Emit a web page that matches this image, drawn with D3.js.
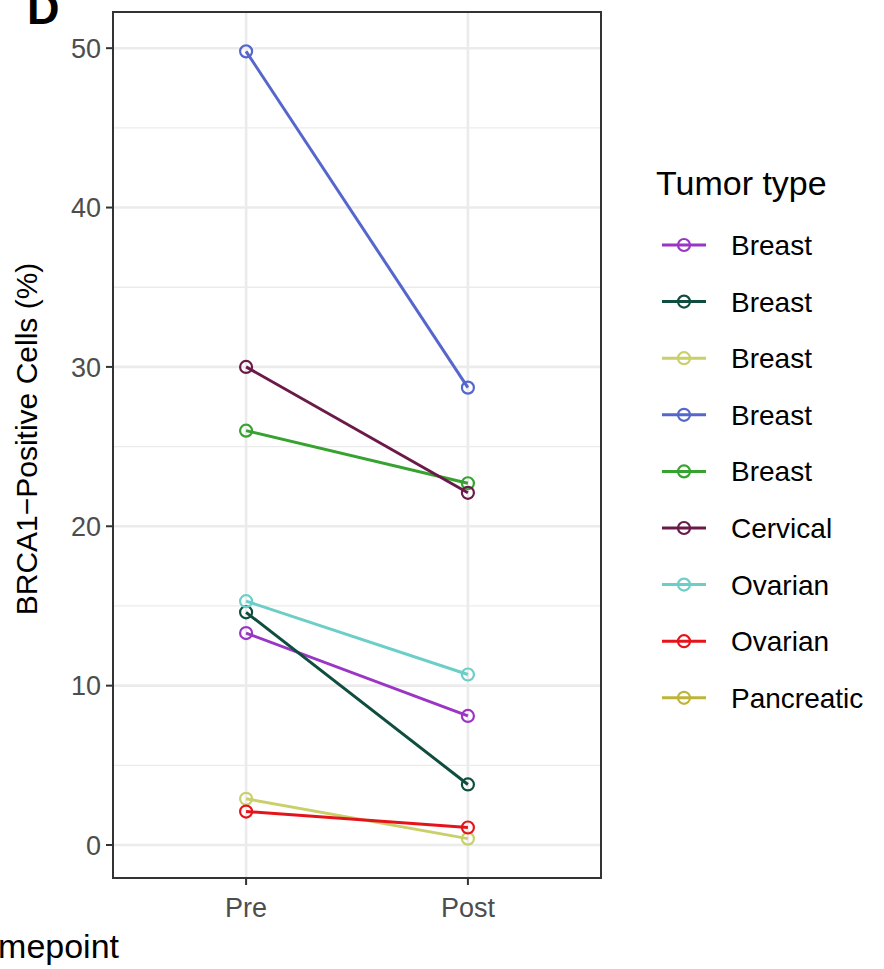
<!DOCTYPE html>
<html>
<head>
<meta charset="utf-8">
<script src="https://cdn.jsdelivr.net/npm/d3@7"></script>
<style>
  body { margin: 0; background: #fff; }
  svg { display: block; font-family: "Liberation Sans", Arial, Helvetica, sans-serif; }
</style>
</head>
<body>
<svg id="chart" width="884" height="969"></svg>
<script>
// ---- data ----
const timepoints = ["Pre", "Post"];
const tumorTypes = ["Breast", "Breast", "Breast", "Breast", "Breast", "Cervical", "Ovarian", "Ovarian", "Pancreatic"];
const seriesColors = ["#9A35C4", "#0F4E3E", "#C9D06A", "#5566CC", "#36A22F", "#6A1A48", "#6CCEC8", "#E5141B", "#BFB43A"];
const preValues  = [13.3, 14.6, 2.9, 49.8, 26.0, 30.0, 15.3, 2.1, null];
const postValues = [8.1, 3.8, 0.4, 28.7, 22.7, 22.1, 10.7, 1.1, null];
const yTicks = [0, 10, 20, 30, 40, 50];
const yMinorTicks = [5, 15, 25, 35, 45];

// ---- layout ----
const svg = d3.select("#chart");
const panel = { left: 113, right: 601, top: 12, bottom: 878 };

const allVals = preValues.concat(postValues).filter(v => v != null);
const vmin = d3.min(allVals), vmax = d3.max(allVals);
const pad = (vmax - vmin) * 0.05;
const y = d3.scaleLinear().domain([vmin - pad, vmax + pad]).range([panel.bottom, panel.top]);
const xPoint = d3.scalePoint().domain(timepoints).range([0, 1]);
const panelW = panel.right - panel.left;
const x = v => panel.left + panelW * (0.6 + xPoint(v)) / 2.2;

// panel background
svg.append("rect").attr("x", panel.left).attr("y", panel.top)
  .attr("width", panelW).attr("height", panel.bottom - panel.top).attr("fill", "#fff");

// grid
const grid = svg.append("g");
grid.selectAll("line.minor").data(yMinorTicks).join("line")
  .attr("x1", panel.left).attr("x2", panel.right)
  .attr("y1", d => y(d)).attr("y2", d => y(d))
  .attr("stroke", "#EBEBEB").attr("stroke-width", 1.3);
grid.selectAll("line.major").data(yTicks).join("line")
  .attr("x1", panel.left).attr("x2", panel.right)
  .attr("y1", d => y(d)).attr("y2", d => y(d))
  .attr("stroke", "#EBEBEB").attr("stroke-width", 2.6);
grid.selectAll("line.vmajor").data(timepoints).join("line")
  .attr("y1", panel.top).attr("y2", panel.bottom)
  .attr("x1", d => x(d)).attr("x2", d => x(d))
  .attr("stroke", "#EBEBEB").attr("stroke-width", 2.6);

// series
const series = tumorTypes.map((t, i) => ({
  type: t, color: seriesColors[i],
  pts: [{ tp: "Pre", v: preValues[i] }, { tp: "Post", v: postValues[i] }].filter(p => p.v != null)
}));
const line = d3.line().x(d => x(d.tp)).y(d => y(d.v));
const sg = svg.append("g");
series.forEach(s => {
  if (s.pts.length < 1) return;
  const g = sg.append("g");
  g.append("path").attr("d", line(s.pts)).attr("fill", "none")
    .attr("stroke", s.color).attr("stroke-width", 3);
  g.selectAll("circle").data(s.pts).join("circle")
    .attr("cx", d => x(d.tp)).attr("cy", d => y(d.v)).attr("r", 6)
    .attr("fill", "none").attr("stroke", s.color).attr("stroke-width", 2.2);
});

// panel border
svg.append("rect").attr("x", panel.left).attr("y", panel.top)
  .attr("width", panelW).attr("height", panel.bottom - panel.top)
  .attr("fill", "none").attr("stroke", "#333333").attr("stroke-width", 2);

// y axis
const yAxis = svg.append("g");
yAxis.selectAll("line").data(yTicks).join("line")
  .attr("x1", panel.left - 7).attr("x2", panel.left)
  .attr("y1", d => y(d)).attr("y2", d => y(d))
  .attr("stroke", "#333333").attr("stroke-width", 2);
yAxis.selectAll("text").data(yTicks).join("text")
  .attr("x", panel.left - 12).attr("y", d => y(d)).attr("dy", "0.36em")
  .attr("text-anchor", "end").attr("font-size", 27).attr("fill", "#4D4D4D")
  .text(d => d);

// x axis
const xAxis = svg.append("g");
xAxis.selectAll("line").data(timepoints).join("line")
  .attr("x1", d => x(d)).attr("x2", d => x(d))
  .attr("y1", panel.bottom).attr("y2", panel.bottom + 7)
  .attr("stroke", "#333333").attr("stroke-width", 2);
xAxis.selectAll("text").data(timepoints).join("text")
  .attr("x", d => x(d)).attr("y", panel.bottom + 39)
  .attr("text-anchor", "middle").attr("font-size", 27).attr("fill", "#4D4D4D")
  .text(d => d);

// axis titles
svg.append("text").attr("transform", `translate(37,${(panel.top + panel.bottom) / 2 - 6}) rotate(-90)`)
  .attr("text-anchor", "middle").attr("font-size", 30).attr("fill", "#000")
  .text("BRCA1\u2212Positive Cells (%)");
svg.append("text").attr("x", -29).attr("y", 958)
  .attr("text-anchor", "start").attr("font-size", 34).attr("fill", "#000")
  .text("Timepoint");

// panel tag
svg.append("text").attr("x", 27).attr("y", 24)
  .attr("font-size", 45).attr("font-weight", "bold").attr("fill", "#000").text("D");

// legend
const leg = svg.append("g");
leg.append("text").attr("x", 656).attr("y", 195)
  .attr("font-size", 34).attr("fill", "#000").text("Tumor type");
const rowY = i => 245 + i * 56.6;
series.forEach((s, i) => {
  const g = leg.append("g").attr("transform", `translate(0,${rowY(i)})`);
  g.append("line").attr("x1", 662).attr("x2", 706).attr("y1", 0).attr("y2", 0)
    .attr("stroke", s.color).attr("stroke-width", 3);
  g.append("circle").attr("cx", 684).attr("cy", 0).attr("r", 6)
    .attr("fill", "none").attr("stroke", s.color).attr("stroke-width", 2.2);
  g.append("text").attr("x", 731).attr("y", 0).attr("dy", "0.36em")
    .attr("font-size", 28).attr("fill", "#000").text(s.type);
});
</script>
</body>
</html>
